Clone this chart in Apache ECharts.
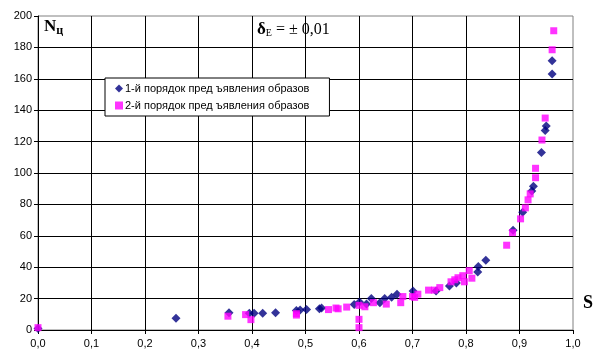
<!DOCTYPE html>
<html><head><meta charset="utf-8">
<script src="https://cdn.jsdelivr.net/npm/echarts@6/dist/echarts.min.js"></script>
<style>html,body{margin:0;padding:0;background:#fff}#c{width:602px;height:358px}</style>
</head><body><div id="c"></div>
<script>
const seriesNames = ["1-й порядок пред ъявления образов", "2-й порядок пред ъявления образов"];
const xTicks = ["0,0","0,1","0,2","0,3","0,4","0,5","0,6","0,7","0,8","0,9","1,0"];
const s1_S = [0.0, 0.258, 0.357, 0.395, 0.404, 0.42, 0.444, 0.483, 0.49, 0.502, 0.526, 0.53, 0.591, 0.601, 0.614, 0.623, 0.639, 0.648, 0.661, 0.671, 0.701, 0.744, 0.769, 0.782, 0.822, 0.823, 0.837, 0.888, 0.906, 0.923, 0.926, 0.941, 0.948, 0.95, 0.961, 0.961];
const s1_N = [1, 7.5, 11, 10.7, 10.7, 10.7, 11, 12.5, 12.8, 13, 13.5, 14, 16.3, 17.8, 16.5, 20, 17.4, 20, 20.8, 22.8, 24.9, 24.9, 28, 30, 37, 40.5, 44.5, 63.6, 75, 88.6, 91.6, 113, 127, 130, 163, 171.5];
const s2_S = [0.0, 0.355, 0.388, 0.398, 0.483, 0.483, 0.543, 0.557, 0.561, 0.577, 0.6, 0.6, 0.6, 0.611, 0.627, 0.651, 0.678, 0.682, 0.7, 0.704, 0.71, 0.73, 0.741, 0.751, 0.772, 0.779, 0.785, 0.794, 0.797, 0.806, 0.811, 0.876, 0.887, 0.902, 0.911, 0.916, 0.92, 0.93, 0.93, 0.942, 0.948, 0.961, 0.964];
const s2_N = [1.5, 8.8, 9.8, 6.6, 10.4, 9.5, 13, 14, 13.5, 14.6, 15.7, 6.8, 1.5, 14.8, 17.4, 16.5, 17.4, 21.3, 21.3, 20.8, 22.8, 25.4, 25.4, 27, 30.7, 32, 33.3, 34.6, 30.7, 37.8, 33, 54, 62, 70.8, 77.8, 82.9, 86.7, 97, 103, 121, 135, 178.5, 190.6];

const sans = "'Liberation Sans', Arial, sans-serif";
const serif = "'Liberation Serif', 'Times New Roman', serif";
const pairs = (a, b) => a.map((v, i) => [v, b[i]]);

const chart = echarts.init(document.getElementById('c'), null, {renderer: 'canvas'});
chart.setOption({
  animation: false,
  backgroundColor: '#fff',
  grid: {left: 38, right: 29, top: 16, bottom: 28, show: true, borderColor: '#808080', borderWidth: 1, backgroundColor: 'transparent'},
  legend: {
    orient: 'vertical', left: 105, top: 78, width: 225,
    backgroundColor: '#fff', borderColor: '#000', borderWidth: 1,
    padding: [5, 20, 5, 10], itemGap: 6, itemWidth: 8, itemHeight: 8,
    textStyle: {fontFamily: sans, fontSize: 11, color: '#000', padding: [0, 0, 0, -3]},
    data: [{name: seriesNames[0], icon: 'diamond'}, {name: seriesNames[1], icon: 'rect'}]
  },
  xAxis: {
    type: 'value', min: 0, max: 1, interval: 0.1,
    axisLine: {show: true, onZero: false, lineStyle: {color: '#000', width: 1}},
    axisTick: {show: true, length: 4, lineStyle: {color: '#000'}},
    axisLabel: {fontFamily: sans, fontSize: 11, color: '#000', margin: 8,
      formatter: v => xTicks[Math.round(v * 10)]},
    splitLine: {show: true, showMaxLine: false, lineStyle: {color: '#000', width: 1}}
  },
  yAxis: {
    type: 'value', min: 0, max: 200, interval: 20,
    axisLine: {show: true, onZero: false, lineStyle: {color: '#000', width: 1}},
    axisTick: {show: true, length: 4, lineStyle: {color: '#000'}},
    axisLabel: {fontFamily: sans, fontSize: 11, color: '#000', margin: 6},
    splitLine: {show: true, showMaxLine: false, lineStyle: {color: '#000', width: 1}}
  },
  series: [
    {name: seriesNames[0], type: 'scatter', symbol: 'diamond', symbolSize: [9, 9],
     itemStyle: {color: '#000080'}, data: pairs(s1_S, s1_N), z: 3},
    {name: seriesNames[1], type: 'scatter', symbol: 'rect', symbolSize: 7,
     itemStyle: {color: '#FF00FF'}, data: pairs(s2_S, s2_N), z: 4}
  ],
  graphic: [
    {type: 'text', left: 44, top: 18, style: {
      text: '{a|N}{b|ц}', rich: {
        a: {fontFamily: serif, fontWeight: 'bold', fontSize: 17, fill: '#000'},
        b: {fontFamily: serif, fontWeight: 'bold', fontSize: 12, fill: '#000', padding: [8, 0, 0, 0]}}}},
    {type: 'text', left: 257, top: 21, style: {
      text: '{a|δ}{b|E}{c| = ± 0,01}', rich: {
        a: {fontFamily: serif, fontWeight: 'bold', fontSize: 17, fill: '#000'},
        b: {fontFamily: serif, fontSize: 10, fill: '#000', padding: [8, 0, 0, 0]},
        c: {fontFamily: serif, fontSize: 16, fill: '#000'}}}},
    {type: 'text', left: 583, top: 294, style: {
      text: 'S', fontFamily: serif, fontWeight: 'bold', fontSize: 18, fill: '#000'}}
  ]
});
</script></body></html>
